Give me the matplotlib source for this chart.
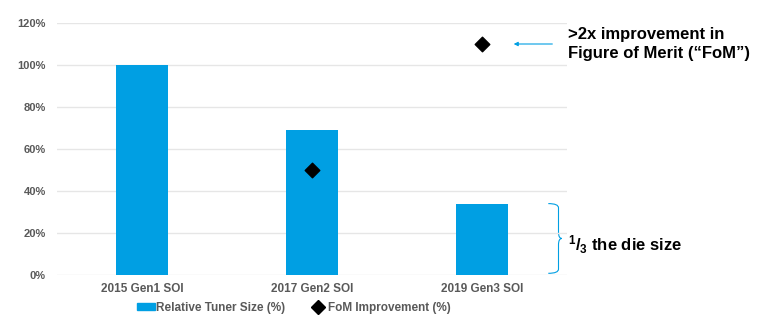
import numpy as np
import matplotlib.pyplot as plt
from matplotlib.path import Path
from matplotlib.patches import PathPatch, Patch
from matplotlib.lines import Line2D

plt.rcParams['font.family'] = ['Liberation Sans', 'DejaVu Sans']
plt.rcParams['mathtext.fontset'] = 'custom'
plt.rcParams['mathtext.bf'] = 'Liberation Sans:bold'
plt.rcParams['mathtext.rm'] = 'Liberation Sans:bold'
plt.rcParams['mathtext.default'] = 'bf'

categories = ["2015 Gen1 SOI", "2017 Gen2 SOI", "2019 Gen3 SOI"]
tuner_size = [100, 69, 34]
fom_improvement = [np.nan, 50, 110]
y_ticks = [0, 20, 40, 60, 80, 100, 120]

bar_color = "#009FE3"
text_grey = "#595959"

fig = plt.figure(figsize=(7.65, 3.22), dpi=100)
ax = fig.add_axes([57 / 765, 1 - 275 / 322, 510 / 765, 252 / 322])

x = np.arange(len(categories))
ax.bar(x, tuner_size, width=0.306, color=bar_color, zorder=2)
ax.scatter(x, fom_improvement, marker="D", s=55, color="black", zorder=3)

ax.set_xlim(-0.5, 2.5)
ax.set_ylim(0, 120)
ax.set_yticks(y_ticks)
ax.set_yticklabels([f"{v}%" for v in y_ticks])
ax.set_xticks(x)
ax.set_xticklabels(categories)
ax.tick_params(axis="y", length=0, pad=8, labelsize=8, labelcolor=text_grey)
ax.tick_params(axis="x", length=0, pad=6, labelsize=8.5, labelcolor=text_grey)
for lab in ax.get_xticklabels() + ax.get_yticklabels():
    lab.set_fontweight("bold")
ax.grid(axis="y", color="#e6e6e6", linewidth=1, zorder=0)
for s in ax.spines.values():
    s.set_visible(False)

# arrow pointing at the Gen3 FoM point
ax.annotate("", xy=(2.17, 110), xytext=(2.43, 110),
            arrowprops=dict(arrowstyle="-|>", color=bar_color, lw=0.8,
                            mutation_scale=6))
fig.text(568 / 765, 1 - 44 / 322, ">2x improvement in\nFigure of Merit (\u201cFoM\u201d)",
         fontsize=12, fontweight="bold", va="center", ha="left", linespacing=1.35)

# curly brace next to the Gen3 bar
x0, x1 = 2.39, 2.47
xs = x1 - 0.02
y_top, y_bot = 34, 0.8
y_mid = (y_top + y_bot) / 2
verts = [(x0, y_top), (xs, y_top), (xs, y_top - 2), (xs, y_mid + 3),
         (xs, y_mid), (x1, y_mid), (x1, y_mid),
         (xs, y_mid), (xs, y_mid - 3), (xs, y_mid - 3),
         (xs, y_bot + 2), (xs, y_bot), (x0, y_bot)]
codes = [Path.MOVETO, Path.CURVE3, Path.CURVE3, Path.LINETO,
         Path.CURVE3, Path.CURVE3, Path.MOVETO,
         Path.CURVE3, Path.CURVE3, Path.LINETO,
         Path.LINETO, Path.CURVE3, Path.CURVE3]
brace = PathPatch(Path(verts, codes), fill=False, edgecolor=bar_color, lw=0.8,
                  clip_on=False)
ax.add_patch(brace)
fig.text(568 / 765, 1 - 245 / 322, r"$^{1}$/$_{3}$ the die size", fontsize=12,
         fontweight="bold", va="center", ha="left")

handles = [Patch(color=bar_color, label="Relative Tuner Size (%)"),
           Line2D([], [], marker="D", color="black", linestyle="none", markersize=7,
                  label="FoM Improvement (%)")]
leg = fig.legend(handles=handles, loc="center", bbox_to_anchor=(294 / 765, 1 - 308 / 322),
                 ncol=2, frameon=False, fontsize=8.5, handlelength=1.5, handletextpad=0.1,
                 columnspacing=2.0, handleheight=0.5)
for t in leg.get_texts():
    t.set_color(text_grey)
    t.set_fontweight("bold")

fig.savefig("out.png", dpi=100)
